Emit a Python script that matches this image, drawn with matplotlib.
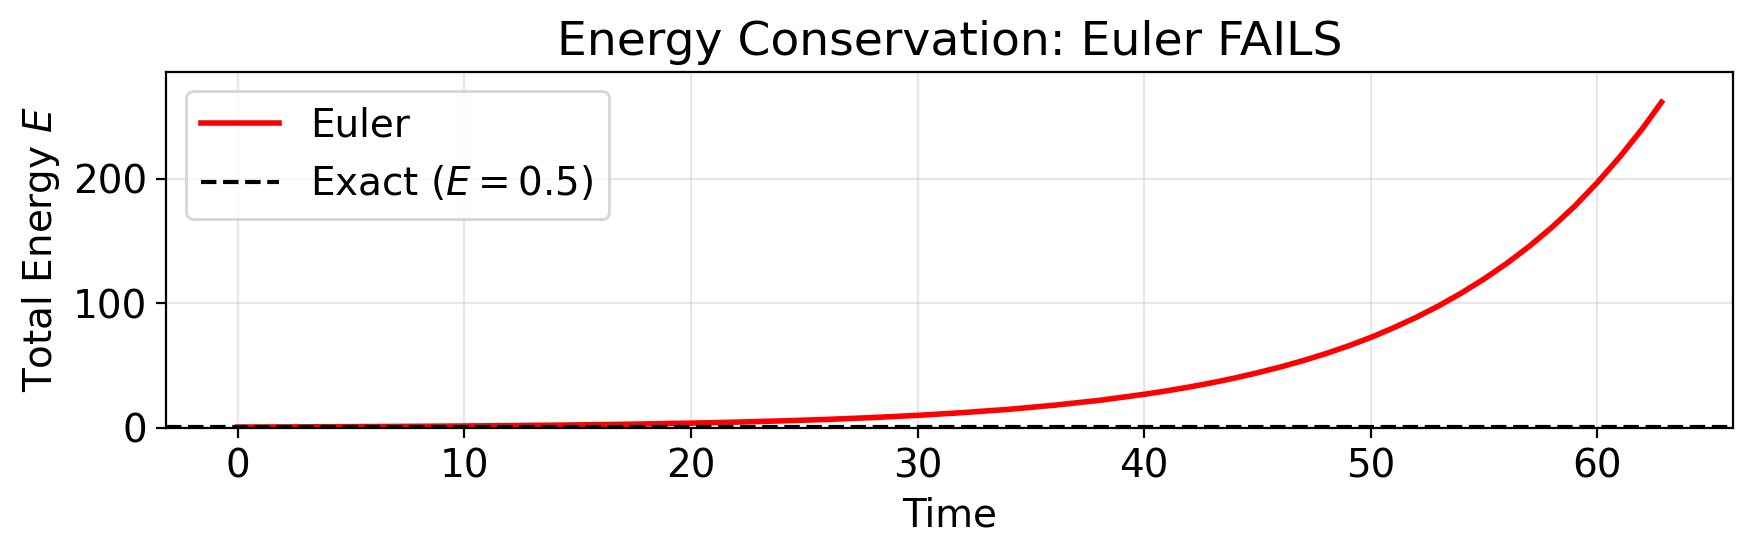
import numpy as np
import matplotlib as mpl
import matplotlib.pyplot as plt

# Euler energy (time, total energy)
time = [0, 2, 4, 6, 8, 10, 12, 14, 16, 18, 20, 22, 24, 26, 28, 30, 32,
        34, 36, 38, 40, 41, 42, 43, 44, 45, 46, 47, 48, 49, 50, 51, 52,
        53, 54, 55, 56, 57, 58, 59, 60, 61, 62, 62.83]
energy_euler = [0.50, 0.61, 0.75, 0.91, 1.11, 1.35, 1.65, 2.01, 2.45, 3.0,
                3.66, 4.46, 5.45, 6.64, 8.11, 9.9, 12.1, 14.7, 18.0, 21.9,
                26.8, 29.6, 32.7, 36.1, 39.9, 44.1, 48.7, 53.8, 59.4, 65.6,
                72.5, 80.2, 88.6, 97.9, 108.2, 119.5, 132.0, 145.8, 161.1,
                178.0, 197.0, 217.8, 240.6, 261.5]
energy_exact = 0.5

fig = plt.figure(figsize=(8.76, 2.775), dpi=200)
ax = fig.add_axes([0.095, 0.2294, 0.894, 0.6414])

ax.plot(time, energy_euler, color='red', lw=2, label='Euler')
ax.axhline(energy_exact, color='black', ls='--', lw=1.5, label=r'Exact ($E=0.5$)')

ax.set_xlim(-3.14, 65.97)
ax.set_ylim(0, 286)
ax.set_xlabel('Time', fontsize=14)
ax.set_ylabel(r'Total Energy $E$', fontsize=14)
ax.set_title('Energy Conservation: Euler FAILS', fontsize=17)
ax.tick_params(labelsize=14)
ax.grid(True, alpha=0.3)
ax.legend(fontsize=14, loc='upper left')

fig.savefig('out.png', dpi=200)
